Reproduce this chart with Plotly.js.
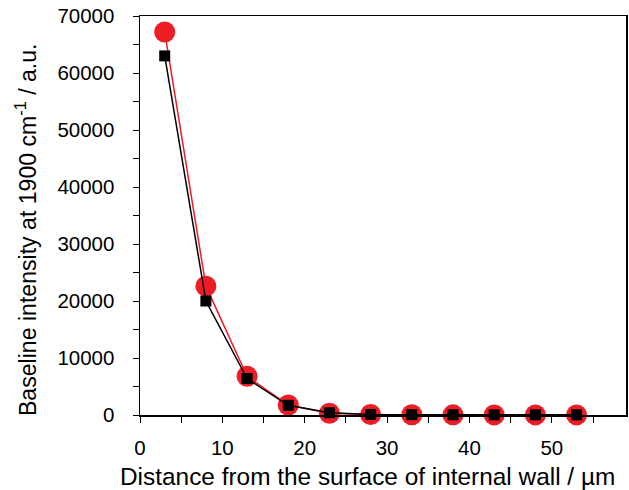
<!DOCTYPE html>
<html>
<head>
<meta charset="utf-8">
<script src="https://cdn.plot.ly/plotly-3.0.1.min.js"></script>
<style>html,body{margin:0;padding:0;background:#fff;}#chart{width:629px;height:490px;}</style>
</head>
<body>
<div id="chart"></div>
<script>
const distance = [3, 8, 13, 18, 23, 28, 33, 38, 43, 48, 53];
const redSeries = [67200, 22600, 6800, 1750, 300, 80, 40, 30, 20, 20, 20];
const blackSeries = [63000, 20000, 6400, 1700, 400, 100, 60, 40, 30, 30, 30];
const xTicks = [0, 10, 20, 30, 40, 50];
const yTicks = [0, 10000, 20000, 30000, 40000, 50000, 60000, 70000];
const xTitle = 'Distance from the surface of internal wall / µm';
const yTitle = 'Baseline intensity at 1900 cm<sup>-1</sup> / a.u.';

const font = 'Liberation Sans, Arial, sans-serif';
const traces = [
  {x: distance, y: redSeries, mode: 'lines+markers', type: 'scatter', cliponaxis: false,
   line: {color: '#ee1c25', width: 1.5},
   marker: {symbol: 'circle', size: 21, color: '#ee1c25'}},
  {x: distance, y: blackSeries, mode: 'lines+markers', type: 'scatter', cliponaxis: false,
   line: {color: '#000000', width: 1.5},
   marker: {symbol: 'square', size: 11, color: '#000000'}}
];
const layout = {
  width: 629, height: 490,
  margin: {l: 140, r: 3, t: 16, b: 75},
  showlegend: false,
  paper_bgcolor: '#fff', plot_bgcolor: '#fff',
  font: {family: font, color: '#000', size: 20},
  xaxis: {
    range: [0, 59], tickvals: xTicks, ticktext: xTicks.map(String),
    showgrid: false, zeroline: false, showline: true, mirror: true, automargin: false,
    linecolor: '#000', linewidth: 1.5, ticks: 'outside', ticklen: 6, tickwidth: 1, tickcolor: '#000',
    minor: {dtick: 5, tick0: 0, ticks: 'outside', ticklen: 6, tickwidth: 1, tickcolor: '#000', showgrid: false},
    ticklabelstandoff: 8,
    tickfont: {family: font, size: 20.5, color: '#000'}
  },
  yaxis: {
    range: [0, 70000], tickvals: yTicks, ticktext: yTicks.map(String),
    showgrid: false, zeroline: false, showline: true, mirror: true, automargin: false,
    linecolor: '#000', linewidth: 1.5, ticks: 'outside', ticklen: 6, tickwidth: 1, tickcolor: '#000',
    minor: {dtick: 5000, tick0: 0, ticks: 'outside', ticklen: 6, tickwidth: 1, tickcolor: '#000', showgrid: false},
    ticklabelstandoff: 14,
    tickfont: {family: font, size: 20.5, color: '#000'}
  },
  annotations: [
    {text: xTitle, xref: 'paper', yref: 'paper', x: 0.468, y: -0.153,
     xanchor: 'center', yanchor: 'middle', showarrow: false,
     font: {family: font, size: 24.4, color: '#000'}},
    {text: yTitle, xref: 'paper', yref: 'paper', x: -0.2346, y: 0.466, textangle: -90,
     xanchor: 'center', yanchor: 'middle', showarrow: false,
     font: {family: font, size: 23.1, color: '#000'}}
  ]
};
Plotly.newPlot('chart', traces, layout, {displayModeBar: false, staticPlot: true});
</script>
</body>
</html>
